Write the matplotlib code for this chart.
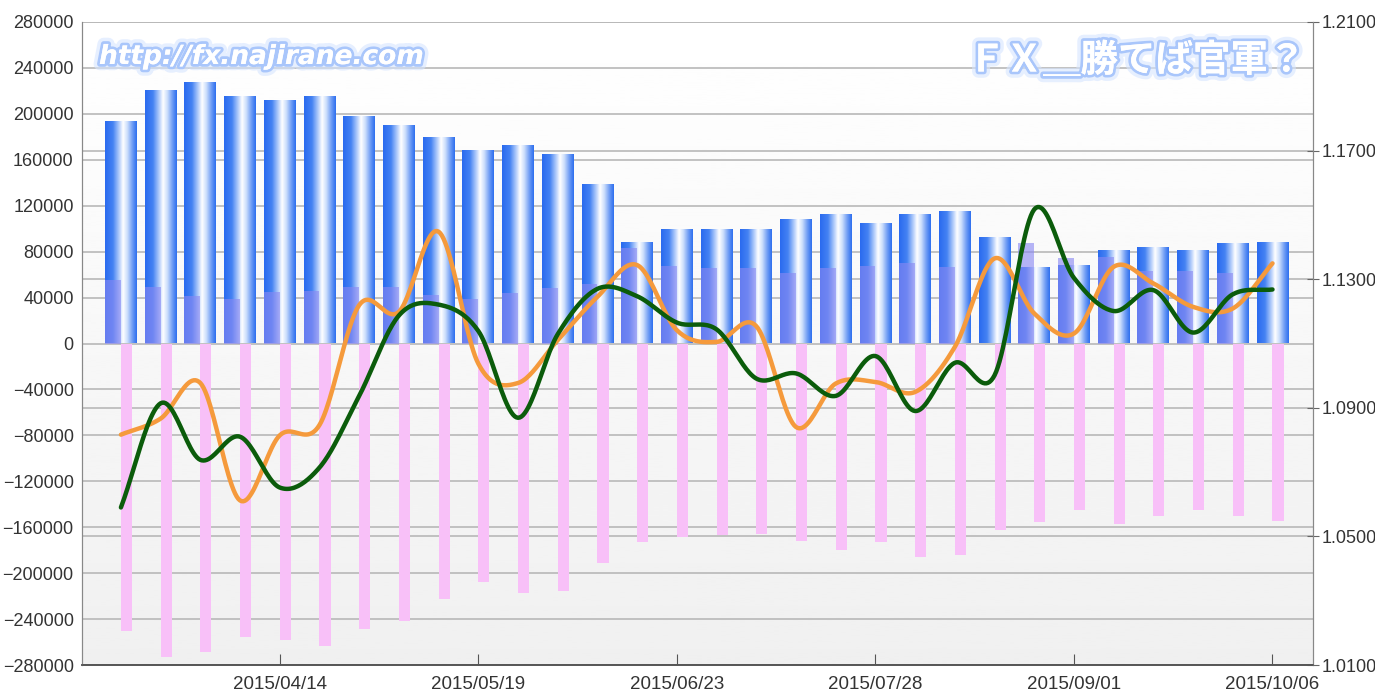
import matplotlib
matplotlib.use("Agg")
import matplotlib.pyplot as plt
import matplotlib.dates as mdates
import matplotlib.patheffects as pe
from matplotlib.colors import LinearSegmentedColormap
from matplotlib.transforms import blended_transform_factory
import numpy as np

# weekly data
dates = ["2015-03-17", "2015-03-24", "2015-03-31", "2015-04-07", "2015-04-14",
         "2015-04-21", "2015-04-28", "2015-05-05", "2015-05-12", "2015-05-19",
         "2015-05-26", "2015-06-02", "2015-06-09", "2015-06-16", "2015-06-23",
         "2015-06-30", "2015-07-07", "2015-07-14", "2015-07-21", "2015-07-28",
         "2015-08-04", "2015-08-11", "2015-08-18", "2015-08-25", "2015-09-01",
         "2015-09-08", "2015-09-15", "2015-09-22", "2015-09-29", "2015-10-06"]
long_pos = [193300, 220300, 226800, 215100, 211600, 214300, 197100, 189800, 179300, 168000,
            171800, 164500, 137800, 87800, 98800, 98800, 98800, 107300, 111900, 103800,
            111900, 114800, 92000, 65400, 67700, 80800, 82900, 80800, 86600, 87800]
other_pos = [55200, 49400, 41300, 38600, 44500, 45900, 49400, 49400, 42100, 38600,
             43600, 48200, 51500, 82900, 67700, 65400, 65400, 61600, 65400, 67700,
             69800, 66800, 0, 87200, 74700, 75600, 63300, 63300, 61600, 0]
short_pos = [-250700, -272800, -269000, -255300, -258200, -263200, -248900, -241400, -222400, -208000,
             -217200, -215200, -191000, -172500, -168700, -166600, -165700, -171600, -179700, -172500,
             -186100, -184100, -162000, -155600, -144800, -157000, -149800, -145400, -149800, -155000]
net_line = [-79400, -65400, -34400, -136700, -80000, -71000, 33400, 27600, 97400, -17500,
            -34400, 2900, 40700, 68300, 11600, 1400, 15100, -72700, -34900, -33500,
            -42200, -3000, 74100, 26200, 8700, 66800, 52300, 31900, 30500, 69800]
eurusd = [1.0590, 1.0914, 1.0738, 1.0810, 1.0652, 1.0714, 1.0937, 1.1187, 1.1221, 1.1139,
          1.0869, 1.1129, 1.1270, 1.1247, 1.1165, 1.1144, 1.0991, 1.1007, 1.0937, 1.1061,
          1.0890, 1.1040, 1.1001, 1.1517, 1.1304, 1.1201, 1.1266, 1.1134, 1.1253, 1.1268]

left_ticks = list(range(-280000, 280001, 40000))
right_ticks = [1.01, 1.05, 1.09, 1.13, 1.17, 1.21]
label_dates = ["2015-04-14", "2015-05-19", "2015-06-23", "2015-07-28", "2015-09-01", "2015-10-06"]

plt.rcParams["font.family"] = ["Liberation Sans", "DejaVu Sans"]

x = mdates.datestr2num(dates)
WEEK = 7.0


def smooth(xs, ys, n=24):
    """Catmull-Rom curve through the points, as the charting tool draws it."""
    xs = np.asarray(xs, float)
    ys = np.asarray(ys, float)
    m = np.empty_like(ys)
    m[1:-1] = (ys[2:] - ys[:-2]) / 2
    m[0] = ys[1] - ys[0]
    m[-1] = ys[-1] - ys[-2]
    out_x, out_y = [], []
    t = np.linspace(0, 1, n, endpoint=False)
    h00 = 2 * t**3 - 3 * t**2 + 1
    h10 = t**3 - 2 * t**2 + t
    h01 = -2 * t**3 + 3 * t**2
    h11 = t**3 - t**2
    for i in range(len(xs) - 1):
        out_x.append(xs[i] + t * (xs[i + 1] - xs[i]))
        out_y.append(h00 * ys[i] + h10 * m[i] + h01 * ys[i + 1] + h11 * m[i + 1])
    out_x.append([xs[-1]])
    out_y.append([ys[-1]])
    return np.concatenate(out_x), np.concatenate(out_y)


fig = plt.figure(figsize=(13.75, 6.97), dpi=100)
ax = fig.add_axes([82 / 1375, 32 / 697, (1313 - 82) / 1375, 643 / 697])
ax2 = ax.twinx()

# background: white fading to light grey
bg = np.linspace(0.94, 1.0, 256).reshape(-1, 1)
ax.imshow(bg, extent=[0, 1, 0, 1], transform=ax.transAxes, aspect="auto",
          cmap="gray", vmin=0, vmax=1, origin="lower", zorder=0)

# grid lines for both scales, behind the bars
for v in left_ticks:
    ax.axhline(v, color="#b8b8b8", lw=1.2, zorder=1)
trans = blended_transform_factory(ax.transAxes, ax2.transData)
for v in right_ticks:
    ax.plot([0, 1], [v, v], transform=trans, color="#b8b8b8", lw=1.2, zorder=1)

# long positions: cylinder-like blue bars
bar_cmap = LinearSegmentedColormap.from_list(
    "cyl", [(0.0, "#2a6bef"), (0.25, "#4683f3"), (0.45, "#b8d0fb"),
            (0.57, "#ffffff"), (0.70, "#cddffc"), (0.88, "#6797f4"), (1.0, "#2f70ef")])
grad = np.linspace(0, 1, 64).reshape(1, -1)
bars = ax.bar(x, long_pos, width=0.8 * WEEK, facecolor="none", edgecolor="none", zorder=2)
for b in bars:
    ax.imshow(grad, extent=[b.get_x(), b.get_x() + b.get_width(), 0, b.get_height()],
              aspect="auto", cmap=bar_cmap, origin="lower", zorder=2, interpolation="bilinear")

ax.bar(x - 0.4 * WEEK, other_pos, width=0.4 * WEEK, align="edge",
       color="#8a88f2", alpha=0.62, zorder=3)
ax.bar(x, short_pos, width=0.28 * WEEK, align="edge", color="#f8c0f8", zorder=2)

sx, sy = smooth(x, net_line)
ax.plot(sx, sy, color="#f59a3c", lw=3.2, zorder=5, solid_capstyle="round")
gx, gy = smooth(x, eurusd)
ax2.plot(gx, gy, color="#0b5c0b", lw=3.2, zorder=5, solid_capstyle="round")

ax.set_xlim(x[0] - 0.98 * WEEK, x[-1] + 1.02 * WEEK)
ax.set_ylim(-280000, 280000)
ax2.set_ylim(1.01, 1.21)

ax.set_yticks(left_ticks)
ax.set_yticklabels([str(v).replace("-", "\u2212") for v in left_ticks])
ax.tick_params(axis="y", length=0, pad=6, labelsize=13, labelcolor="#333333")
ax2.set_yticks(right_ticks)
ax2.set_yticklabels([f"{v:.4f}" for v in right_ticks])
ax2.tick_params(axis="y", direction="inout", length=8, color="#666666",
                pad=2, labelsize=13, labelcolor="#333333")

ax.set_xticks(mdates.datestr2num(label_dates))
ax.set_xticklabels([d.replace("-", "/") for d in label_dates])
ax.tick_params(axis="x", direction="in", length=8, color="#555555",
               pad=8, labelsize=13.5, labelcolor="#333333")

for a in (ax, ax2):
    a.spines["top"].set_visible(False)
    a.spines["left"].set_color("#888888")
    a.spines["right"].set_color("#888888")
    a.spines["bottom"].set_color("#555555")
    a.spines["bottom"].set_linewidth(1.2)

# glowing watermarks
glow = [pe.withStroke(linewidth=9, foreground="#d6e5ff", alpha=0.6),
        pe.withStroke(linewidth=4, foreground="#a9c6fb"), pe.Normal()]
fig.text(99 / 1375, 1 - 57 / 697, "http://fx.najirane.com", color="white",
         fontsize=19, fontweight="bold", fontstyle="italic", va="center", ha="left",
         family=["DejaVu Sans"], path_effects=glow, zorder=10)
fig.text(968 / 1375, 1 - 60 / 697, "ＦＸ＿勝てば官軍？", color="white",
         fontsize=27, fontweight="bold", va="center", ha="left",
         family=["Noto Sans CJK JP", "DejaVu Sans"], path_effects=glow, zorder=10)

fig.savefig("out.png", dpi=100, facecolor="white")
